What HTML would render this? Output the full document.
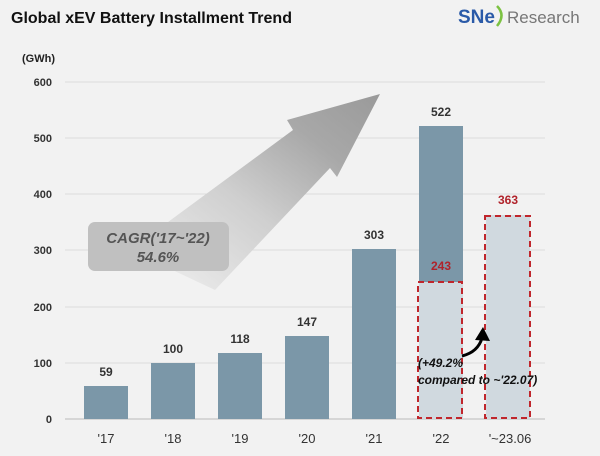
<!DOCTYPE html>
<html><head><style>
body{margin:0;width:600px;height:451px;background:#f2f2f2;overflow:hidden;font-family:"Liberation Sans",sans-serif}
</style></head><body>
<svg width="600" height="451" xmlns="http://www.w3.org/2000/svg" font-family="Liberation Sans, sans-serif">
<defs>
<linearGradient id="g" x1="0" y1="1" x2="1" y2="0">
<stop offset="0" stop-color="#f2f2f2"/><stop offset="0.45" stop-color="#cfcfcf"/><stop offset="0.75" stop-color="#a8a8a8"/><stop offset="1" stop-color="#9a9a9a"/>
</linearGradient>
</defs>
<rect width="600" height="451" fill="#f2f2f2"/>
<text x="11" y="23" font-size="16" font-weight="bold" fill="#111">Global xEV Battery Installment Trend</text>
<text x="458" y="23" font-size="19" font-weight="bold" fill="#2a5aa8">SNe</text>
<path d="M497 6 Q506 15 497 26" stroke="#7cc242" stroke-width="2.5" fill="none"/>
<text x="507" y="23" font-size="17" fill="#777">Research</text>
<text x="22" y="62" font-size="11" font-weight="bold" fill="#222">(GWh)</text>
<g stroke="#dcdcdc" stroke-width="1">
<line x1="65" y1="82" x2="545" y2="82"/><line x1="65" y1="138" x2="545" y2="138"/><line x1="65" y1="194" x2="545" y2="194"/><line x1="65" y1="250" x2="545" y2="250"/><line x1="65" y1="307" x2="545" y2="307"/><line x1="65" y1="363" x2="545" y2="363"/>
</g>
<line x1="65" y1="419" x2="545" y2="419" stroke="#bbb"/>
<g font-size="11" fill="#333" font-weight="bold" text-anchor="end">
<text x="52" y="86">600</text><text x="52" y="142">500</text><text x="52" y="198">400</text><text x="52" y="254">300</text><text x="52" y="311">200</text><text x="52" y="367">100</text><text x="52" y="423">0</text>
</g>
<polygon points="130,250 293,130 287,120 380,94 337,177 330,168 215,290" fill="url(#g)"/>
<rect x="88" y="222" width="141" height="49" rx="7" fill="#c0c0c0"/>
<text x="158" y="243" font-size="15" font-style="italic" font-weight="bold" fill="#555" text-anchor="middle">CAGR('17~'22)</text>
<text x="158" y="262" font-size="15" font-style="italic" font-weight="bold" fill="#555" text-anchor="middle">54.6%</text>
<g fill="#7b97a8">
<rect x="84" y="386" width="44" height="33"/><rect x="151" y="363" width="44" height="56"/><rect x="218" y="353" width="44" height="66"/><rect x="285" y="336" width="44" height="83"/><rect x="352" y="249" width="44" height="170"/><rect x="419" y="126" width="44" height="293"/>
</g>
<rect x="419" y="282" width="44" height="137" fill="#d0d9df"/>
<rect x="486" y="215" width="44" height="204" fill="#d0d9df"/>
<g fill="none" stroke="#c0262c" stroke-width="2" stroke-dasharray="6,4">
<rect x="418" y="282" width="44" height="136"/><rect x="485" y="216" width="45" height="202"/>
</g>
<g font-size="12" font-weight="bold" fill="#333" text-anchor="middle">
<text x="106" y="376">59</text><text x="173" y="353">100</text><text x="240" y="343">118</text><text x="307" y="326">147</text><text x="374" y="239">303</text><text x="441" y="116">522</text>
</g>
<g font-size="12" font-weight="bold" fill="#b0222a" text-anchor="middle">
<text x="441" y="270">243</text><text x="508" y="204">363</text>
</g>
<path d="M462 356 Q478 352 482 338" stroke="#000" stroke-width="3" fill="none"/>
<polygon points="475,340 483,327 490,341" fill="#000"/>
<text x="418" y="367" font-size="12" font-style="italic" font-weight="bold" fill="#111">(+49.2%</text>
<text x="418" y="384" font-size="12" font-style="italic" font-weight="bold" fill="#111">compared to ~'22.07)</text>
<g font-size="13" fill="#333" text-anchor="middle">
<text x="106" y="443">'17</text><text x="173" y="443">'18</text><text x="240" y="443">'19</text><text x="307" y="443">'20</text><text x="374" y="443">'21</text><text x="441" y="443">'22</text><text x="510" y="443">'~23.06</text>
</g>
</svg>
</body></html>
